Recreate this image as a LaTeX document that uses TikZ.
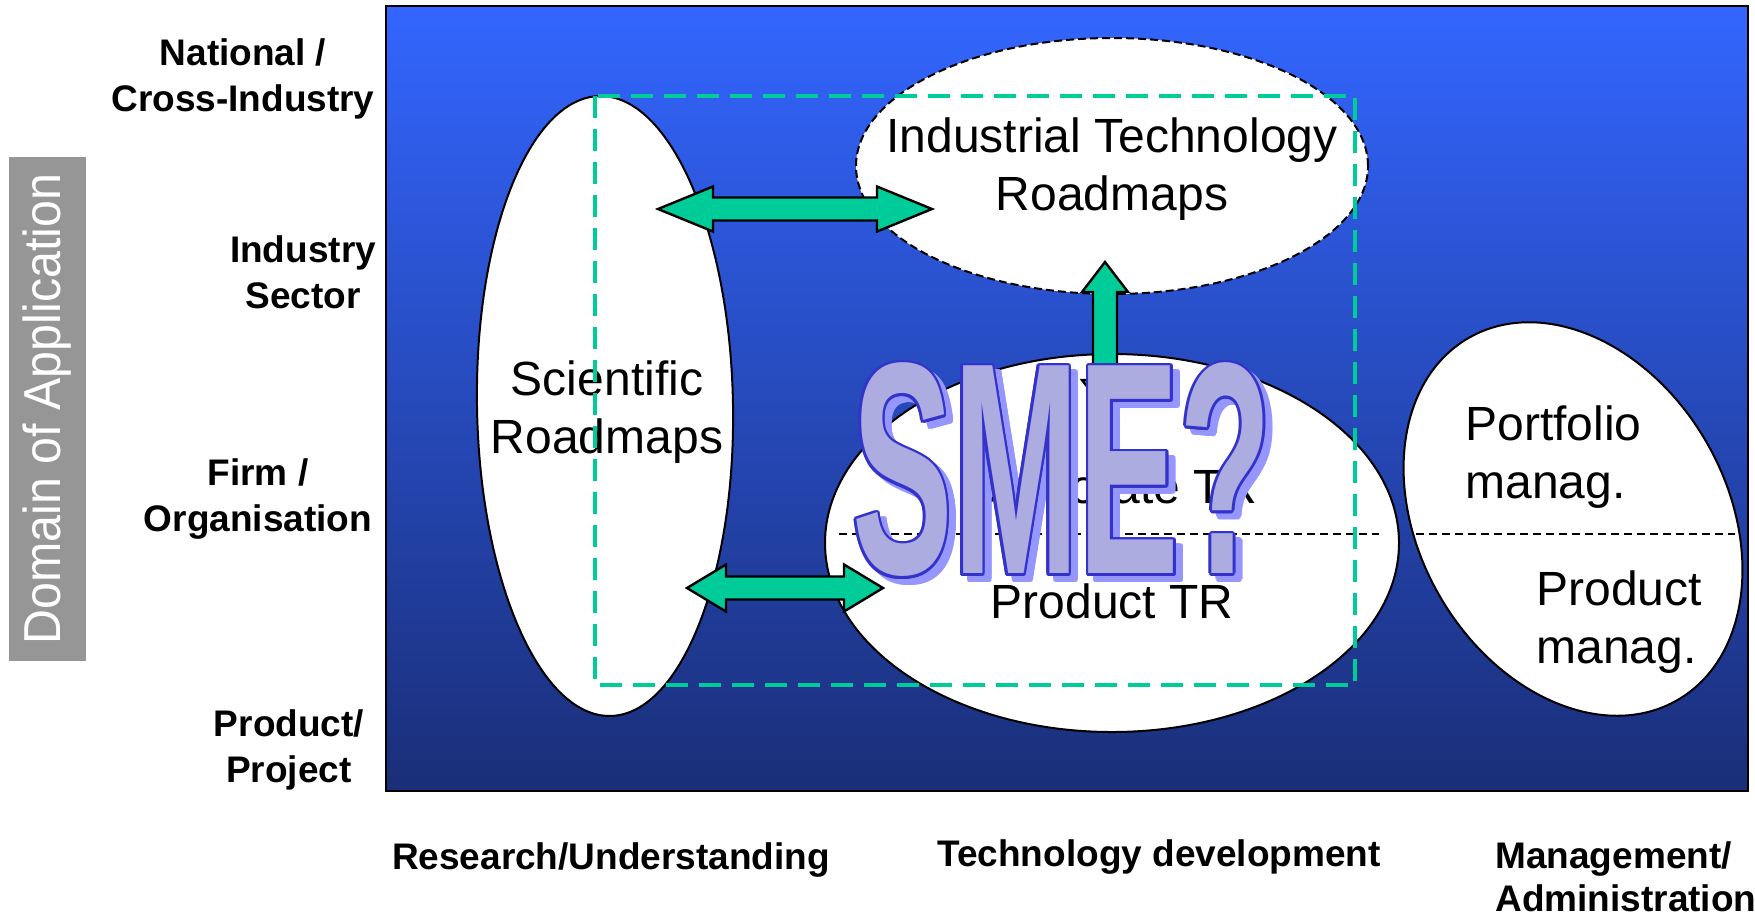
\documentclass[tikz,border=0pt]{standalone}
\usepackage{fontspec}
\setmainfont{Liberation Sans}
\usetikzlibrary{shapes.geometric,calc}
\definecolor{bgtop}{RGB}{51,102,255}
\definecolor{bgbot}{RGB}{26,46,120}
\definecolor{sea}{RGB}{0,204,153}
\definecolor{smeline}{RGB}{51,51,204}
\definecolor{smeshadow}{RGB}{150,150,255}
\definecolor{smefill}{RGB}{172,172,224}
\definecolor{domgrey}{RGB}{150,150,150}
\begin{document}
\begin{tikzpicture}[x=0.5pt,y=-0.5pt,
  oval/.style={ellipse, draw=black, line width=1pt, fill=white, inner sep=0pt},
  axislabel/.style={font=\fontsize{18.5}{23}\selectfont\bfseries, align=center, inner sep=0pt},
  ovaltext/.style={font=\fontsize{24}{29}\selectfont, inner sep=0pt},
  garrow/.style={draw=black, line width=1.2pt, fill=sea, line join=miter},
  smebase/.style={font=\fontsize{151}{151}\selectfont\bfseries, inner sep=0pt},
  divider/.style={draw=black, line width=0.6pt, dash pattern=on 4pt off 2.5pt},
]
\useasboundingbox (0,0) rectangle (1755,917);
\fill[white] (0,0) rectangle (1755,917);
% background panel
\shadedraw[top color=bgtop, bottom color=bgbot, draw=black, line width=1pt] (386,6) rectangle (1748,791);

% axis title
\fill[domgrey] (9,157) rectangle (86,661);
\node[rotate=90, text=white, font=\fontsize{26}{26}\selectfont, inner sep=0pt] (dom) at (47.5,409) {\scalebox{0.93}[1]{Domain of Application}};

% vertical axis labels
\node[axislabel] (natl) at (243,78.5) {National /\\Cross-Industry};
\node[axislabel] (sector) at (303,272.5) {Industry\\Sector};
\node[axislabel] (firm) at (258,499.5) {Firm /\\Organisation};
\node[axislabel] (prodproj) at (289,749.5) {Product/\\Project};

% horizontal axis labels
\node[axislabel] (research) at (611,859.5) {Research/Understanding};
\node[axislabel] (techdev) at (1159,856.5) {Technology development};
\node[axislabel, align=left, anchor=west, font=\fontsize{18.5}{21.3}\selectfont\bfseries] (mgmt) at (1495,877) {Management/\\Administration};

% ovals
\node[oval, minimum width=128pt, minimum height=310pt, rotate=1.0] (sci) at (605,406) {};
\node[oval, dash pattern=on 4pt off 2pt, minimum width=256pt, minimum height=128pt] (itr) at (1112,166) {};
\node[oval, minimum width=287pt, minimum height=189pt] (ctr) at (1112,543) {};
\node[oval, minimum width=209pt, minimum height=154pt, rotate=-60] (pm) at (1573,519) {};

% dividers
\coordinate (d1a) at (839,534); \coordinate (d1b) at (1379,534);
\coordinate (d2a) at (1416,534); \coordinate (d2b) at (1735,534);
\draw[divider] (d1a) -- (d1b);
\draw[divider] (d2a) -- (d2b);

% oval texts
\node[ovaltext, align=center] (scit) at (607,412) {Scientific\\Roadmaps};
\node[ovaltext, align=center] (itrt) at (1112,169.5) {Industrial Technology\\Roadmaps};
\node[ovaltext] (corp) at (1112,492) {Corporate TR};
\node[ovaltext] (prodtr) at (1112,601) {Product TR};
\node[ovaltext, align=left, anchor=west] (port) at (1465,457) {Portfolio\\manag.};
\node[ovaltext, align=left, anchor=west] (pman) at (1536,622.5) {Product\\manag.};

% green dashed frame
\draw[sea, line width=2.25pt, dash pattern=on 11pt off 5.5pt] (595,96) rectangle (1355,685);

% block arrows
\coordinate (a1l) at (658,209); \coordinate (a1r) at (932,209);
\draw[garrow] (a1l) -- (713,186.5) -- (713,197.5) -- (877,197.5) -- (877,186.5) -- (a1r)
  -- (877,231.5) -- (877,220.5) -- (713,220.5) -- (713,231.5) -- cycle;
\coordinate (a2l) at (687,588); \coordinate (a2r) at (883,588);
\draw[garrow] (a2l) -- (726,564.5) -- (726,576.5) -- (844,576.5) -- (844,564.5) -- (a2r)
  -- (844,611.5) -- (844,599.5) -- (726,599.5) -- (726,611.5) -- cycle;
\coordinate (a3t) at (1105,262); \coordinate (a3b) at (1105,410);
\draw[garrow] (a3t) -- (1128,292) -- (1117,292) -- (1117,380) -- (1128,380) -- (a3b)
  -- (1082,380) -- (1093,380) -- (1093,292) -- (1082,292) -- cycle;

% SME? word art
\coordinate (sme) at (1062,470);
\foreach \a in {0,30,...,330}
  \node[smebase, text=smeshadow] (smes\a) at ($(sme)+(7,6)+(\a:2.6)$) {\scalebox{0.5}[1]{SME?}};
\foreach \a in {0,30,...,330}
  \node[smebase, text=smeline] (smeo\a) at ($(sme)+(\a:2.6)$) {\scalebox{0.5}[1]{SME?}};
\node[smebase, text=smefill] (smef) at (sme) {\scalebox{0.5}[1]{SME?}};
\end{tikzpicture}
\end{document}
